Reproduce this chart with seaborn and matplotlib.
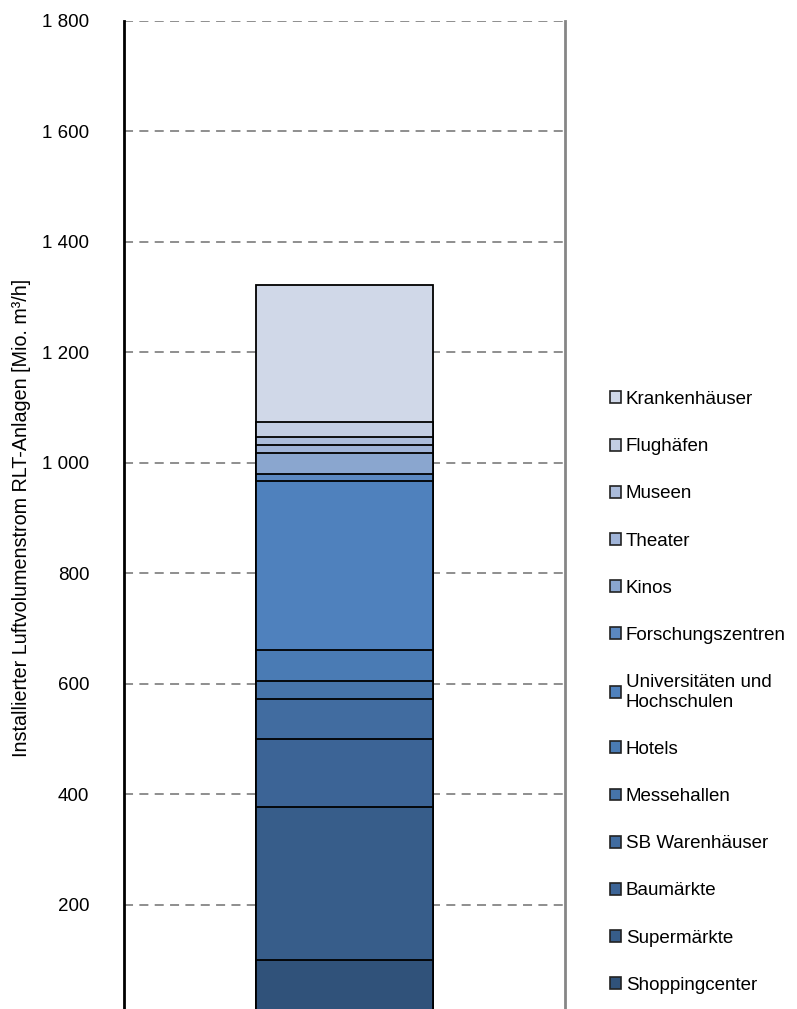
import numpy as np
import pandas as pd
import matplotlib
matplotlib.use("Agg")
import matplotlib.pyplot as plt
from matplotlib.patches import Patch
import seaborn as sns

# Segments from bottom to top of the stacked bar
categories = ["Shoppingcenter", "Supermärkte", "Baumärkte", "SB Warenhäuser",
              "Messehallen", "Hotels", "Universitäten und\nHochschulen",
              "Forschungszentren", "Kinos", "Theater", "Museen",
              "Flughäfen", "Krankenhäuser"]
values = [100, 277, 124, 71, 34, 56, 305, 13, 37, 16, 14, 26, 248]
colors = ["#30527a", "#375d8a", "#3c6496", "#416ca0", "#4674aa", "#4a7bb4",
          "#4f81bd", "#5b88c1", "#8aa6cf", "#a0b4d8", "#abbcdb", "#c3cee3",
          "#d0d8e8"]
tick_values = [200, 400, 600, 800, 1000, 1200, 1400, 1600, 1800]
tick_labels = ["200", "400", "600", "800", "1 000", "1 200", "1 400", "1 600", "1 800"]

sns.set_style("white")
plt.rcParams["font.family"] = ["Liberation Sans", "DejaVu Sans"]
plt.rcParams["text.color"] = "black"
plt.rcParams["ytick.color"] = "black"
plt.rcParams["axes.labelcolor"] = "black"

df = pd.DataFrame({"Kategorie": categories, "Wert": values})
df["Summe"] = df["Wert"].cumsum()
df["x"] = ""

fig = plt.figure(figsize=(7.97, 10.09), dpi=100)
ax = fig.add_axes([124 / 797, -6.5 / 1009, 441 / 797, 994.8 / 1009])

# draw cumulative bars from the top down so each segment shows
for i in range(len(df) - 1, -1, -1):
    sns.barplot(data=df.iloc[[i]], x="x", y="Summe", color=colors[i],
                saturation=1, width=0.4, edgecolor="black", linewidth=1.3,
                ax=ax, zorder=3)

ax.set_xlim(-0.5, 0.5)
ax.set_ylim(0, 1800)
ax.set_yticks(tick_values)
ax.set_yticklabels(tick_labels, fontsize=13.5)
ax.tick_params(axis="y", length=0, pad=25)
ax.set_xticks([])
ax.set_xlabel("")
ax.set_ylabel("Installierter Luftvolumenstrom RLT-Anlagen [Mio. m³/h]", fontsize=14.2)
ax.yaxis.set_label_coords(-0.212, 0.5)
ax.yaxis.grid(True, linestyle=(0, (5, 3.5)), color="#868686", linewidth=1.3, zorder=0)
ax.xaxis.grid(False)
ax.set_axisbelow(True)

for s in ["top", "bottom"]:
    ax.spines[s].set_visible(False)
ax.spines["left"].set_color("black")
ax.spines["left"].set_linewidth(2)
ax.spines["right"].set_color("#868686")
ax.spines["right"].set_linewidth(2)

handles = [Patch(facecolor=colors[i], edgecolor="#222222", linewidth=1.2,
                 label=categories[i]) for i in range(len(categories) - 1, -1, -1)]
fig.legend(handles=handles, loc="upper left", bbox_to_anchor=(610 / 797, 1 - 391 / 1009),
           frameon=False, fontsize=13.5, handlelength=0.6, handleheight=0.6,
           handletextpad=0.25, labelspacing=1.61, borderaxespad=0, borderpad=0)

fig.savefig("out.png", dpi=100)
